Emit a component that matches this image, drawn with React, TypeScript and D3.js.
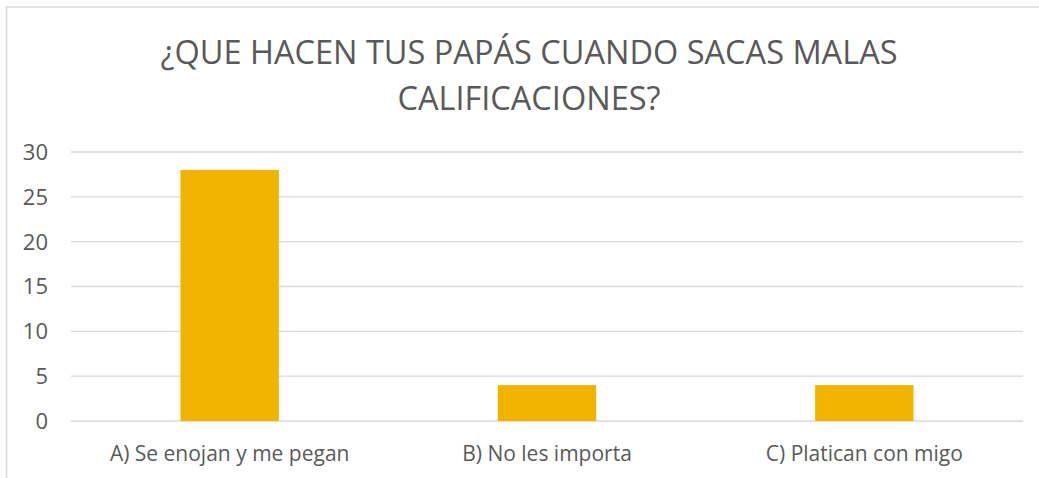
import React from 'react';
import * as d3 from 'd3';

const categories = ['A) Se enojan y me pegan', 'B) No les importa', 'C) Platican con migo'];
const values = [28, 4, 4];
const yTicks = [0, 5, 10, 15, 20, 25, 30];
const titleLines = ['¿QUE HACEN TUS PAPÁS CUANDO SACAS MALAS', 'CALIFICACIONES?'];

const W = 1039;
const H = 478;
const margin = { top: 152, right: 16, bottom: 57, left: 71 };
const font = '"Open Sans", sans-serif';
const textColor = '#595959';

const App = () => {
  // x: one band per answer, bars about a third of the band wide
  const x = d3
    .scaleBand()
    .domain(categories)
    .range([margin.left, W - margin.right])
    .paddingInner(0.69)
    .paddingOuter(0.345);

  const y = d3
    .scaleLinear()
    .domain([0, 30])
    .range([H - margin.bottom, margin.top]);

  return (
    <svg
      width={W}
      height={H}
      style={{ position: 'absolute', left: 0, top: 0, background: '#fff' }}
    >
      {/* chart border, only top and left visible */}
      <rect x={6.5} y={7} width={W + 20} height={H + 20} fill="#fff" stroke="#d9d9d9" strokeWidth={1.5} />

      {titleLines.map((t, i) => (
        <text
          key={i}
          x={529}
          y={64 + i * 46}
          textAnchor="middle"
          fontFamily={font}
          fontSize={32.5}
          fill={textColor}
        >
          {t}
        </text>
      ))}

      {/* gridlines */}
      {yTicks.map(t => (
        <line
          key={t}
          x1={margin.left}
          x2={W - margin.right}
          y1={y(t)}
          y2={y(t)}
          stroke="#d9d9d9"
          strokeWidth={1.3}
        />
      ))}

      {yTicks.map(t => (
        <text
          key={t}
          x={48}
          y={y(t)}
          dy="0.36em"
          textAnchor="end"
          fontFamily={font}
          fontSize={22}
          fill={textColor}
        >
          {t}
        </text>
      ))}

      {categories.map((c, i) => (
        <rect
          key={c}
          x={x(c)}
          y={y(values[i])}
          width={x.bandwidth()}
          height={y(0) - y(values[i])}
          fill="#f0b400"
        />
      ))}

      {categories.map(c => (
        <text
          key={c}
          x={(x(c) as number) + x.bandwidth() / 2}
          y={461}
          textAnchor="middle"
          fontFamily={font}
          fontSize={21}
          fill={textColor}
        >
          {c}
        </text>
      ))}
    </svg>
  );
};

export default App;
